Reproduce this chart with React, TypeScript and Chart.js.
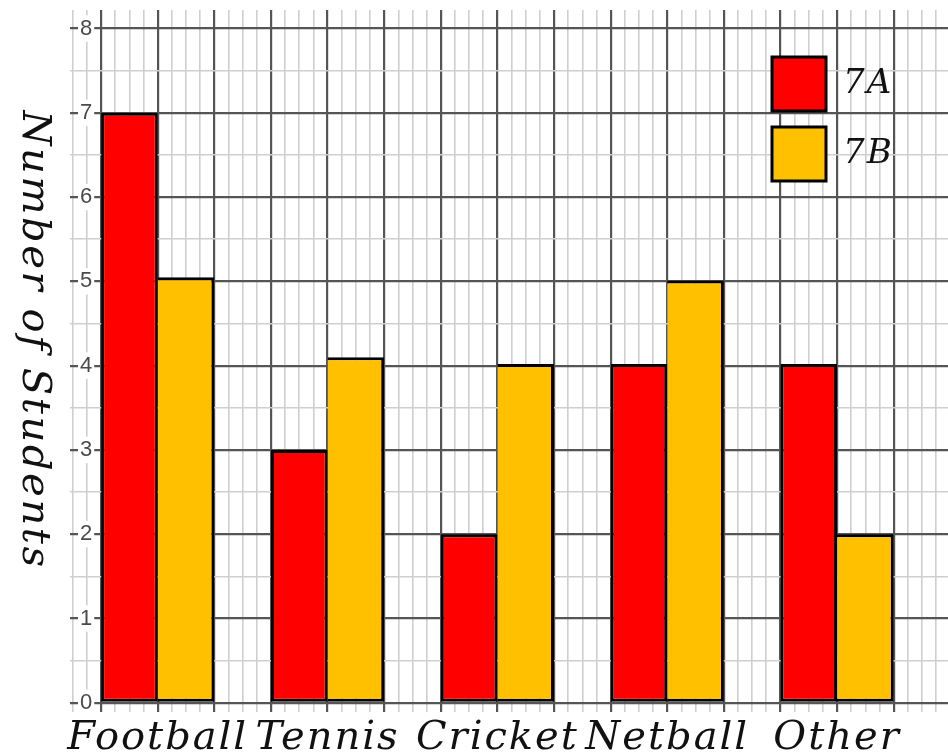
import React, { useEffect, useRef } from "react";
import { Chart, registerables } from "chart.js";

Chart.register(...registerables);

// ---- data ----
const categories = ["Football", "Tennis", "Cricket", "Netball", "Other"];
const series7A = [7, 3, 2, 4.02, 4.02];
const series7B = [5.05, 4.1, 4.02, 5.01, 2];
const seriesNames = ["7A", "7B"];
const yTickLabels = ["0", "1", "2", "3", "4", "5", "6", "7", "8"];
const yAxisTitle = "Number of Students";

// ---- style / layout ----
const RED = "#FF0000";
const YELLOW = "#FFC000";
const MAJOR = "#555555";
const MINOR = "#cfcfcf";
const GROUP_SPACING = 3; // in bar-width units
const SERIF = '"DejaVu Serif", serif';

const isMajor = (v: number) => Math.abs(v - Math.round(v)) < 1e-6;
const tickMajor = (c: any) => !!(c && c.tick && isMajor(c.tick.value));
const quarterTicks = (from: number, to: number) => {
  const out: { value: number }[] = [];
  for (let k = Math.round(from * 4); k <= Math.round(to * 4); k++) out.push({ value: k / 4 });
  return out;
};
const groupCenter = (i: number) => i * GROUP_SPACING + 1;

const spacingPlugin = {
  id: "spacingPlugin",
  beforeDraw(chart: any) {
    (chart.ctx as any).letterSpacing = "2px";
  },
};

const legendPlacer = {
  id: "legendPlacer",
  afterLayout(chart: any) {
    const lg = chart.legend;
    if (!lg) return;
    const pad = lg.options.labels.padding;
    lg.left = 772 - pad;
    lg.right = lg.left + lg.width;
    lg.top = 57 - pad;
    lg.bottom = chart.chartArea.bottom;
  },
};

const yTitlePlugin = {
  id: "yTitlePlugin",
  afterDraw(chart: any) {
    const ctx = chart.ctx as CanvasRenderingContext2D;
    ctx.save();
    (ctx as any).letterSpacing = "2.6px";
    ctx.translate(23, 340);
    ctx.rotate(Math.PI / 2);
    ctx.font = `italic 40px ${SERIF}`;
    ctx.fillStyle = "#111";
    ctx.textAlign = "center";
    ctx.textBaseline = "alphabetic";
    ctx.fillText(yAxisTitle, 0, 0);
    ctx.restore();
  },
};

const zeroPads = (s: any) => {
  s.paddingTop = 0;
  s.paddingBottom = 0;
  s.paddingLeft = 0;
  s.paddingRight = 0;
};

export default function App() {
  const ref = useRef<HTMLCanvasElement>(null);

  useEffect(() => {
    document.body.style.margin = "0";
    const canvas = ref.current!;
    const chart = new Chart(canvas, {
      type: "bar",
      data: {
        datasets: [
          {
            label: seriesNames[0],
            data: series7A.map((v, i) => ({ x: groupCenter(i), y: v })),
            backgroundColor: RED,
            borderColor: "#000",
            borderWidth: { top: 3, left: 3, bottom: 3, right: 3 },
            borderSkipped: false,
            categoryPercentage: 2 / 3,
            barPercentage: 1,
            xAxisID: "x",
            yAxisID: "y",
          } as any,
          {
            label: seriesNames[1],
            data: series7B.map((v, i) => ({ x: groupCenter(i), y: v })),
            backgroundColor: YELLOW,
            borderColor: "#000",
            borderWidth: { top: 3, left: 0, bottom: 3, right: 3 },
            borderSkipped: false,
            categoryPercentage: 2 / 3,
            barPercentage: 1,
            xAxisID: "x",
            yAxisID: "y",
          } as any,
        ],
      },
      options: {
        animation: false,
        responsive: false,
        devicePixelRatio: 1,
        layout: { padding: { left: 70, top: 10, right: 0, bottom: 0 } },
        scales: {
          xGrid: {
            type: "linear",
            axis: "x",
            position: "bottom",
            offset: false,
            min: -0.55,
            max: 14.96,
            afterBuildTicks: (s: any) => {
              s.ticks = quarterTicks(-0.5, 14.75);
            },
            afterFit: (s: any) => {
              s.height = 0;
              zeroPads(s);
            },
            ticks: { display: false },
            border: { display: false },
            grid: {
              offset: false,
              drawTicks: false,
              color: (c: any) => (tickMajor(c) ? MAJOR : MINOR),
              lineWidth: (c: any) => (tickMajor(c) ? 2.2 : 1.6),
            },
          } as any,
          x: {
            type: "linear",
            position: "bottom",
            offset: false,
            min: -0.55,
            max: 14.96,
            afterBuildTicks: (s: any) => {
              s.ticks = categories.map((_, i) => ({ value: groupCenter(i) }));
            },
            afterFit: (s: any) => {
              s.height = 44;
              zeroPads(s);
            },
            border: { display: false },
            grid: { display: false, offset: false, drawTicks: false },
            ticks: {
              autoSkip: false,
              maxRotation: 0,
              minRotation: 0,
              padding: 3,
              color: "#111",
              font: { family: SERIF, style: "italic", size: 40 },
              callback: (v: any) => {
                const i = categories.findIndex((_, k) => Math.abs(groupCenter(k) - v) < 1e-6);
                return i >= 0 ? categories[i] : "";
              },
            },
          } as any,
          y: {
            type: "linear",
            position: "left",
            min: -0.11,
            max: 8.22,
            afterBuildTicks: (s: any) => {
              s.ticks = quarterTicks(0, yTickLabels.length - 1);
            },
            afterFit: (s: any) => {
              s.width = 0;
              zeroPads(s);
            },
            border: { display: false },
            grid: {
              drawTicks: false,
              color: (c: any) => (tickMajor(c) ? MAJOR : MINOR),
              lineWidth: (c: any) => (tickMajor(c) ? 2.2 : 1.6),
            },
            ticks: {
              mirror: true,
              padding: 10,
              color: "#4a4a4a",
              font: { family: '"Liberation Sans", Arial, sans-serif', size: 22 },
              showLabelBackdrop: (c: any) => tickMajor(c),
              backdropColor: (c: any) => (tickMajor(c) ? "#ffffff" : "rgba(0,0,0,0)"),
              backdropPadding: { left: 2, right: 2, top: 0, bottom: 0 },
              callback: (v: any) => (isMajor(v) ? yTickLabels[Math.round(v)] ?? "" : ""),
            },
          } as any,
        },
        plugins: {
          tooltip: { enabled: false },
          title: { display: false },
          legend: {
            position: "chartArea",
            align: "start",
            labels: {
              boxWidth: 54,
              boxHeight: 54,
              padding: 16,
              color: "#111",
              font: { family: SERIF, style: "italic", size: 34 },
              generateLabels: (c: any) =>
                (Chart.defaults.plugins.legend.labels.generateLabels as any)(c).map((l: any) => ({
                  ...l,
                  lineWidth: 3,
                  strokeStyle: "#000",
                })),
            },
          } as any,
        },
      },
      plugins: [spacingPlugin, legendPlacer, yTitlePlugin],
    });
    return () => chart.destroy();
  }, []);

  return (
    <div style={{ position: "absolute", left: 0, top: 0, width: 948, height: 756, background: "#fff" }}>
      <canvas ref={ref} width={948} height={756} style={{ display: "block" }} />
    </div>
  );
}
